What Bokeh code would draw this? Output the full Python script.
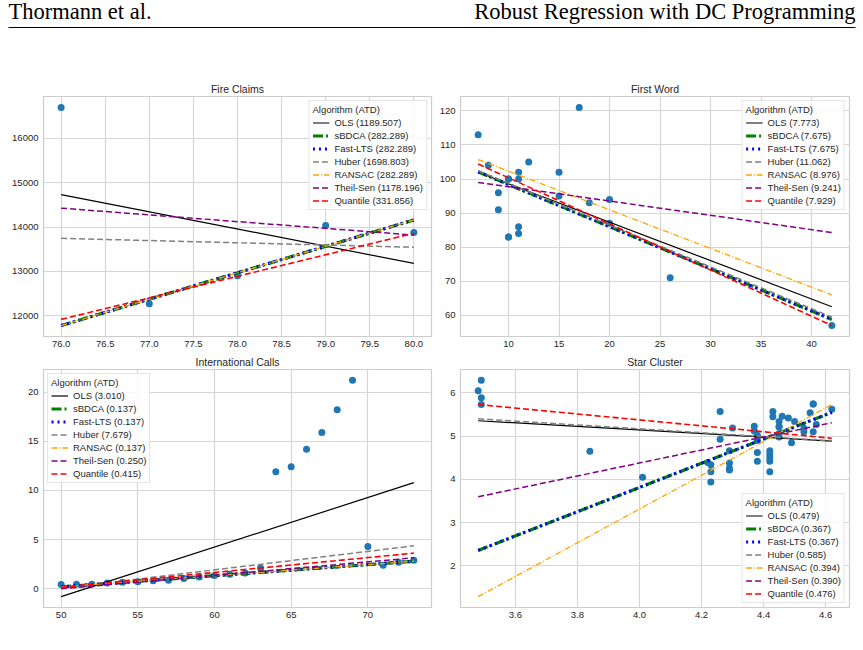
from bokeh.plotting import figure
from bokeh.models import Range1d, FixedTicker, PrintfTickFormatter, Label
from bokeh.layouts import column, row
from bokeh.embed import file_html
from bokeh.resources import INLINE

# ---------------- data ----------------
ALGORITHMS = ["OLS", "sBDCA", "Fast-LTS", "Huber", "RANSAC", "Theil-Sen", "Quantile"]
LEGEND_TITLE = "Algorithm (ATD)"

HEADER_LEFT = "Thormann et al."
HEADER_RIGHT = "Robust Regression with DC Programming"

# Fire Claims
FIRE_TITLE = "Fire Claims"
FIRE_YEAR = [76, 77, 78, 79, 80]
FIRE_CLAIMS = [16694, 12271, 12904, 14036, 13874]
FIRE_INTERCEPT = [44180.8, -33440.0, -33440.0, 17545.0, -33440.0, 25958.0, -24940.0]
FIRE_SLOPE = [-387.5, 595.0, 595.0, -50.0, 595.0, -151.75, 485.0]
FIRE_ATD = ["1189.507", "282.289", "282.289", "1698.803", "282.289", "1178.196", "331.856"]
FIRE_XTICKS = [76.0, 76.5, 77.0, 77.5, 78.0, 78.5, 79.0, 79.5, 80.0]
FIRE_YTICKS = [12000, 13000, 14000, 15000, 16000]

# First Word
WORD_TITLE = "First Word"
WORD_AGE = [15, 26, 10, 9, 15, 20, 18, 11, 8, 20, 7, 9, 10, 11, 11, 10, 12, 42, 17, 11, 10]
WORD_SCORE = [95, 71, 83, 91, 102, 87, 93, 100, 104, 94, 113, 96, 83, 84, 102, 100, 105, 57, 121, 86, 100]
WORD_INTERCEPT = [109.874, 110.76, 110.76, 110.98, 113.64, 101.94, 113.9]
WORD_SLOPE = [-1.127, -1.237, -1.237, -1.2257, -1.134, -0.42, -1.354]
WORD_ATD = ["7.773", "7.675", "7.675", "11.062", "8.976", "9.241", "7.929"]
WORD_XTICKS = [10, 15, 20, 25, 30, 35, 40]
WORD_YTICKS = [60, 70, 80, 90, 100, 110, 120]

# International Calls
CALL_TITLE = "International Calls"
CALL_YEAR = [50, 51, 52, 53, 54, 55, 56, 57, 58, 59, 60, 61, 62, 63, 64, 65, 66, 67, 68, 69, 70, 71, 72, 73]
CALLS = [0.44, 0.47, 0.47, 0.59, 0.66, 0.73, 0.81, 0.88, 1.06, 1.20, 1.35, 1.49, 1.61, 2.12,
         11.90, 12.40, 14.20, 15.90, 18.20, 21.20, 4.30, 2.40, 2.70, 2.90]
CALL_INTERCEPT = [-26.006, -5.452, -5.452, -9.34, -5.452, -6.85, -7.39]
CALL_SLOPE = [0.5041, 0.11304, 0.11304, 0.1878, 0.11304, 0.137, 0.1509]
CALL_ATD = ["3.010", "0.137", "0.137", "7.679", "0.137", "0.250", "0.415"]
CALL_XTICKS = [50, 55, 60, 65, 70]
CALL_YTICKS = [0, 5, 10, 15, 20]

# Star Cluster
STAR_TITLE = "Star Cluster"
STAR_LOG_TE = [4.37, 4.56, 4.26, 4.56, 4.30, 4.46, 3.84, 4.57, 4.26, 4.37, 3.49, 4.43, 4.48, 4.01,
               4.29, 4.42, 4.23, 4.42, 4.23, 3.49, 4.29, 4.29, 4.42, 4.49, 4.38, 4.42, 4.29, 4.38,
               4.22, 3.48, 4.38, 4.56, 4.45, 3.49, 4.23, 4.62, 4.53, 4.45, 4.53, 4.43, 4.38, 4.45,
               4.50, 4.45, 4.55, 4.45, 4.42]
STAR_LOG_LIGHT = [5.23, 5.74, 4.93, 5.74, 5.19, 5.46, 4.65, 5.27, 5.57, 5.12, 5.73, 5.45, 5.42, 4.05,
                  4.26, 4.58, 3.94, 4.18, 4.18, 5.89, 4.38, 4.22, 4.42, 4.85, 5.02, 4.66, 4.66, 4.90,
                  4.39, 6.05, 4.42, 5.10, 5.22, 6.29, 4.34, 5.62, 5.10, 5.22, 5.18, 5.57, 4.62, 5.06,
                  5.34, 5.34, 5.54, 4.98, 4.50]
STAR_INTERCEPT = [6.793, -7.378, -7.378, 6.957, -12.264, -1.62, 8.111]
STAR_SLOPE = [-0.413, 2.798, 2.798, -0.447, 3.895, 1.5, -0.684]
STAR_ATD = ["0.479", "0.367", "0.367", "0.585", "0.394", "0.390", "0.476"]
STAR_XTICKS = [3.6, 3.8, 4.0, 4.2, 4.4, 4.6]
STAR_YTICKS = [2, 3, 4, 5, 6]

# ---------------- styles ----------------
LINE_STYLES = [
    dict(color="black", width=1.2, dash="solid"),
    dict(color="green", width=3.2, dash="10 3 2 3"),
    dict(color="blue", width=3.0, dash="2 4"),
    dict(color="gray", width=1.5, dash="6 3"),
    dict(color="orange", width=1.3, dash="6 2 1 2"),
    dict(color="purple", width=1.5, dash="6 3"),
    dict(color="red", width=1.6, dash="6 3"),
]
POINT_COLOR = "#1f77b4"
TEXT_COLOR = "#262626"
GRID_COLOR = "#d6d6d6"
SANS = "Liberation Sans"
SERIF = "Liberation Serif"


def panel(title, xs, ys, intercepts, slopes, atds, xticks, yticks, xfmt, yfmt,
          legend_loc, width, height, b_left, b_right, b_top, b_bottom):
    x0, x1 = min(xs), max(xs)
    line_x = [x0, x1]
    line_ys = [[b + m * x0, b + m * x1] for b, m in zip(intercepts, slopes)]
    all_y = list(ys) + [v for pair in line_ys for v in pair]
    ylo, yhi = min(all_y), max(all_y)
    xm = 0.05 * (x1 - x0)
    ym = 0.05 * (yhi - ylo)
    p = figure(width=width, height=height,
               x_range=Range1d(x0 - xm, x1 + xm), y_range=Range1d(ylo - ym, yhi + ym),
               toolbar_location=None, output_backend="svg",
               min_border_left=b_left, min_border_right=b_right,
               min_border_top=b_top, min_border_bottom=b_bottom)
    p.title.text = title
    p.title.align = "center"
    p.title.text_font = SANS
    p.title.text_font_size = "10.5px"
    p.title.text_font_style = "normal"
    p.title.text_color = TEXT_COLOR
    p.title.standoff = 3

    p.scatter(xs, ys, size=7, color=POINT_COLOR, line_color=None)
    for name, atd, ly, st in zip(ALGORITHMS, atds, line_ys, LINE_STYLES):
        p.line(line_x, ly, line_color=st["color"], line_width=st["width"],
               line_dash=st["dash"], legend_label=f"{name} ({atd})")

    p.xaxis.ticker = FixedTicker(ticks=xticks)
    p.yaxis.ticker = FixedTicker(ticks=yticks)
    p.xaxis.formatter = PrintfTickFormatter(format=xfmt)
    p.yaxis.formatter = PrintfTickFormatter(format=yfmt)
    for ax in (p.xaxis, p.yaxis):
        ax.axis_line_color = None
        ax.major_tick_line_color = None
        ax.minor_tick_line_color = None
        ax.major_tick_out = 0
        ax.major_tick_in = 0
        ax.minor_tick_out = 0
        ax.minor_tick_in = 0
        ax.major_label_text_font = SANS
        ax.major_label_text_font_size = "9.5px"
        ax.major_label_text_color = TEXT_COLOR
    p.xaxis.major_label_standoff = 4
    p.yaxis.major_label_standoff = 5
    p.grid.grid_line_color = GRID_COLOR
    p.grid.grid_line_width = 1.2
    p.outline_line_color = "#cccccc"
    p.outline_line_width = 1.2
    p.background_fill_color = "white"
    p.border_fill_color = "white"

    lg = p.legend[0]
    lg.title = LEGEND_TITLE
    lg.title_text_font = SANS
    lg.title_text_font_size = "9.5px"
    lg.title_text_font_style = "normal"
    lg.title_text_color = TEXT_COLOR
    lg.title_standoff = 2
    lg.location = legend_loc
    lg.label_text_font = SANS
    lg.label_text_font_size = "9.5px"
    lg.label_text_color = TEXT_COLOR
    lg.glyph_width = 17
    lg.glyph_height = 11
    lg.label_height = 11
    lg.label_standoff = 5
    lg.spacing = 2
    lg.padding = 3
    lg.margin = 4
    lg.background_fill_alpha = 0.85
    lg.border_line_color = "#cccccc"
    lg.border_line_width = 1
    return p


# ---------------- header ----------------
W, HEADER_H = 863, 70
header = figure(width=W, height=HEADER_H, x_range=Range1d(0, W), y_range=Range1d(0, HEADER_H),
                toolbar_location=None, output_backend="svg", x_axis_type=None, y_axis_type=None,
                min_border=0)
header.outline_line_color = None
header.grid.visible = False
header.add_layout(Label(x=8, y=HEADER_H - 11, text=HEADER_LEFT, text_font=SERIF,
                        text_font_size="22.5px", text_color="black", text_baseline="alphabetic"))
header.add_layout(Label(x=855, y=HEADER_H - 11, text=HEADER_RIGHT, text_font=SERIF,
                        text_font_size="22.5px", text_color="black", text_baseline="alphabetic",
                        text_align="right"))
header.line([8, 855], [HEADER_H - 27, HEADER_H - 27], line_color="black", line_width=1.2)

p1 = panel(FIRE_TITLE, FIRE_YEAR, FIRE_CLAIMS, FIRE_INTERCEPT, FIRE_SLOPE, FIRE_ATD,
           FIRE_XTICKS, FIRE_YTICKS, "%.1f", "%d", "top_right", 436, 282, 43, 5, 26, 16)
p2 = panel(WORD_TITLE, WORD_AGE, WORD_SCORE, WORD_INTERCEPT, WORD_SLOPE, WORD_ATD,
           WORD_XTICKS, WORD_YTICKS, "%d", "%d", "top_right", 427, 282, 24, 14, 26, 16)
p3 = panel(CALL_TITLE, CALL_YEAR, CALLS, CALL_INTERCEPT, CALL_SLOPE, CALL_ATD,
           CALL_XTICKS, CALL_YTICKS, "%d", "%d", "top_left", 436, 298, 43, 5, 16, 43)
p4 = panel(STAR_TITLE, STAR_LOG_TE, STAR_LOG_LIGHT, STAR_INTERCEPT, STAR_SLOPE, STAR_ATD,
           STAR_XTICKS, STAR_YTICKS, "%.1f", "%d", "bottom_right", 427, 298, 24, 14, 16, 43)

layout = column(header, row(p1, p2), row(p3, p4))

with open("out.html", "w") as f:
    f.write(file_html(layout, INLINE))
